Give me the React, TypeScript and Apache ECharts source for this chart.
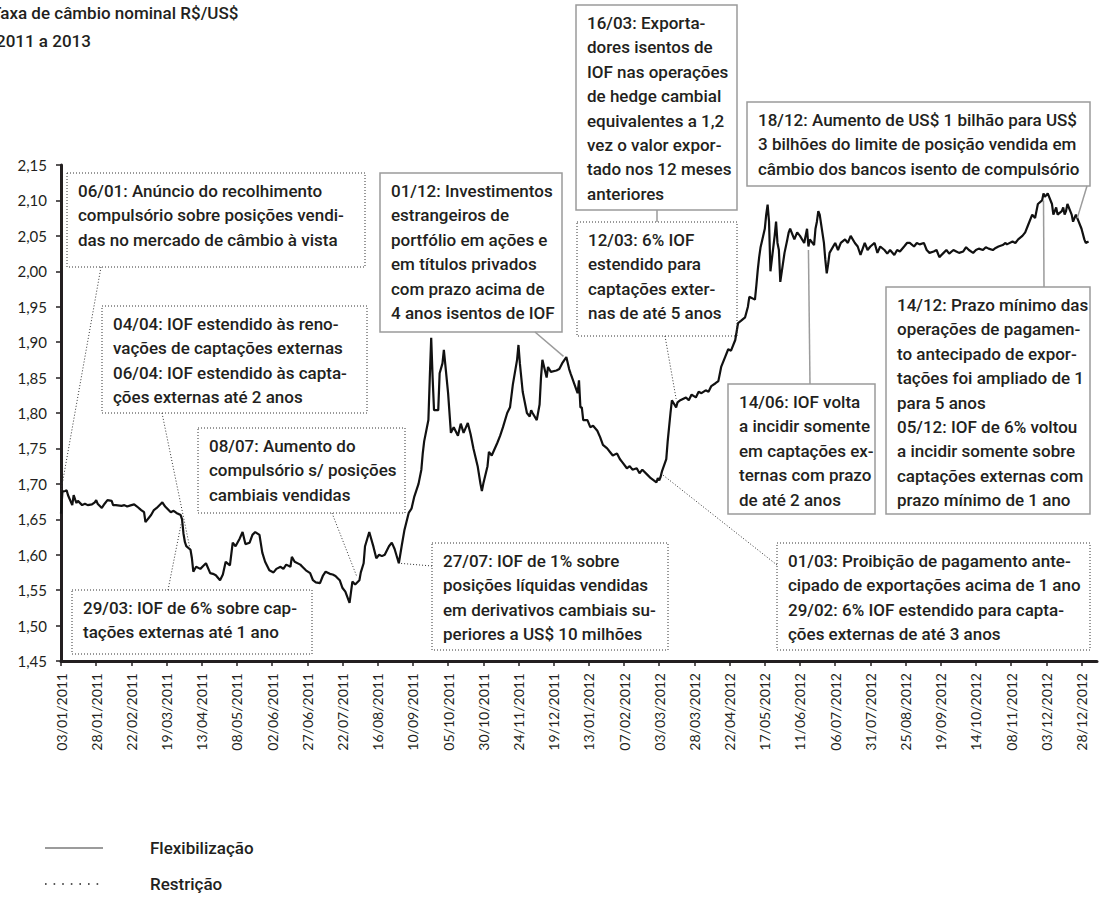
import React, { useEffect, useRef } from "react";
import * as echarts from "echarts";

// ---------- DATA ----------
const dates2011 = [
  "01-03","01-04","01-06","01-07","01-08","01-11","01-12","01-13","01-14","01-15","01-18","01-20","01-22","01-25","01-27","01-28","01-29",
  "02-01","02-03","02-05","02-08","02-09","02-11","02-15","02-17","02-19","02-22","02-24","02-26",
  "03-01","03-03","03-04","03-08","03-10","03-12","03-15","03-16","03-18","03-22","03-24","03-26","03-29","03-30","03-31",
  "04-01","04-02","04-05","04-06","04-07","04-09","04-12","04-14","04-16","04-19","04-21","04-23","04-26","04-28","04-30",
  "05-03","05-05","05-07","05-10","05-12","05-14","05-17","05-19","05-21","05-24","05-26","05-28","05-31",
  "06-03","06-05","06-08","06-10","06-12","06-15","06-16","06-18","06-22","06-24","06-26","06-29",
  "07-01","07-03","07-06","07-08","07-10","07-13","07-15","07-17","07-20","07-22","07-24","07-27","07-29",
  "07-31","08-03","08-04","08-06","08-07","08-10","08-11","08-13","08-15","08-17","08-19","08-21","08-24","08-26","08-28","08-31",
  "09-02","09-04","09-07","09-09","09-11","09-14","09-16","09-17","09-18","09-21","09-22","09-23","09-24","09-25","09-28","09-29","10-01",
  "10-02","10-05","10-07","10-09","10-12","10-14","10-16","10-19","10-21","10-23","10-26","10-28","10-29","10-30",
  "11-02","11-03","11-05","11-09","11-11","11-13","11-16","11-18","11-20","11-23","11-24","11-25","11-26","11-27","11-30",
  "12-02","12-03","12-04","12-07","12-09","12-10","12-11","12-14","12-15","12-17","12-21","12-23","12-25","12-28","12-30","12-31",
];
const rates2011 = [
  1.658,1.689,1.690,1.691,1.684,1.670,1.684,1.678,1.673,1.676,1.670,1.672,1.670,1.671,1.674,1.677,1.672,
  1.666,1.672,1.677,1.676,1.670,1.670,1.669,1.670,1.668,1.670,1.671,1.668,
  1.663,1.660,1.646,1.656,1.663,1.666,1.672,1.674,1.668,1.660,1.662,1.659,1.656,1.650,1.630,
  1.618,1.612,1.607,1.595,1.576,1.583,1.580,1.584,1.588,1.574,1.573,1.571,1.564,1.572,1.590,
  1.585,1.617,1.612,1.623,1.632,1.615,1.617,1.628,1.632,1.628,1.603,1.590,1.578,
  1.575,1.580,1.583,1.580,1.586,1.583,1.597,1.590,1.586,1.582,1.578,1.574,
  1.564,1.561,1.560,1.570,1.576,1.573,1.572,1.570,1.564,1.553,1.548,1.532,1.562,
  1.558,1.564,1.575,1.588,1.612,1.632,1.625,1.611,1.595,1.600,1.598,1.600,1.612,1.617,1.608,1.588,
  1.612,1.635,1.659,1.665,1.682,1.700,1.720,1.743,1.760,1.790,1.850,1.906,1.850,1.804,1.804,1.856,1.870,
  1.889,1.828,1.772,1.780,1.768,1.785,1.772,1.786,1.770,1.750,1.725,1.700,1.690,1.700,
  1.725,1.745,1.740,1.758,1.768,1.780,1.800,1.808,1.840,1.875,1.896,1.870,1.850,1.830,1.800,
  1.795,1.804,1.800,1.790,1.812,1.850,1.875,1.850,1.865,1.858,1.860,1.862,1.870,1.879,1.862,1.856,
];
const dates2012 = [
  "01-05","01-06","01-07","01-08","01-09","01-12","01-14","01-16","01-19","01-21","01-23","01-26","01-28","01-30",
  "02-02","02-04","02-06","02-09","02-11","02-13","02-16","02-18","02-20","02-24","02-26","03-01","03-02","03-03",
  "03-04","03-05","03-08","03-09","03-10","03-11","03-12","03-15","03-16","03-18","03-22","03-24","03-26","03-29","03-31",
  "04-02","04-05","04-07","04-09","04-12","04-14","04-16","04-19","04-21","04-23","04-26","04-28","04-30",
  "05-03","05-05","05-06","05-10","05-11","05-12","05-13","05-14","05-17","05-18","05-19","05-20","05-21","05-24","05-25","05-26","05-27","05-28","05-31",
  "06-02","06-03","06-04","06-07","06-09","06-11","06-14","06-16","06-17","06-18","06-21","06-22","06-23","06-24","06-25","06-28","06-29","06-30",
  "07-01","07-02","07-06","07-08","07-10","07-13","07-15","07-17","07-20","07-22","07-24","07-27","07-29","07-31",
  "08-03","08-05","08-07","08-10","08-12","08-14","08-17","08-19","08-21","08-24","08-26","08-28","08-31","09-02",
  "09-04","09-07","09-09","09-11","09-14","09-16","09-18","09-21","09-23","09-25","09-28","09-30",
  "10-02","10-05","10-07","10-09","10-12","10-14","10-16","10-19","10-21","10-23","10-26","10-28","10-30","11-02",
  "11-04","11-05","11-09","11-11","11-13","11-16","11-18","11-20","11-23","11-25","11-27","11-30","12-01","12-02",
  "12-04","12-07","12-08","12-09","12-10","12-11","12-14","12-15","12-16","12-17","12-18","12-21","12-22","12-23","12-24","12-25","12-28","12-30","12-31",
];
const rates2012 = [
  1.828,1.846,1.808,1.808,1.790,1.790,1.780,1.782,1.775,1.766,1.755,1.750,1.745,1.740,
  1.743,1.735,1.730,1.722,1.725,1.720,1.722,1.715,1.720,1.712,1.708,1.702,1.708,1.705,
  1.710,1.718,1.735,1.760,1.780,1.800,1.818,1.808,1.815,1.818,1.822,1.818,1.826,1.822,1.830,
  1.828,1.832,1.830,1.838,1.842,1.845,1.865,1.880,1.890,1.888,1.903,1.927,1.930,
  1.935,1.950,1.964,1.960,1.980,2.002,2.020,2.034,2.060,2.080,2.094,2.070,2.000,2.050,2.070,2.040,2.030,1.985,2.026,
  2.045,2.055,2.060,2.045,2.055,2.050,2.040,2.060,2.035,2.045,2.037,2.060,2.070,2.085,2.080,2.040,2.016,1.997,
  2.010,2.026,2.040,2.030,2.040,2.045,2.040,2.050,2.040,2.035,2.023,2.040,2.030,2.035,
  2.040,2.026,2.035,2.030,2.025,2.030,2.023,2.030,2.028,2.035,2.040,2.040,2.035,2.040,
  2.038,2.040,2.030,2.026,2.028,2.030,2.020,2.026,2.030,2.025,2.030,2.028,
  2.026,2.028,2.034,2.030,2.026,2.030,2.032,2.030,2.034,2.032,2.030,2.033,2.035,2.037,
  2.040,2.038,2.042,2.040,2.045,2.050,2.055,2.065,2.080,2.075,2.095,2.100,2.110,2.105,
  2.110,2.095,2.080,2.085,2.090,2.080,2.085,2.090,2.080,2.085,2.095,2.080,2.070,2.075,2.080,2.075,2.060,2.045,2.040,
];
const dates2013 = ["01-02"];
const rates2013 = [2.042];

const xTickLabels = [
  "03/01/2011","28/01/2011","22/02/2011","19/03/2011","13/04/2011","08/05/2011","02/06/2011","27/06/2011",
  "22/07/2011","16/08/2011","10/09/2011","05/10/2011","30/10/2011","24/11/2011","19/12/2011",
  "13/01/2012","07/02/2012","03/03/2012","28/03/2012","22/04/2012","17/05/2012","11/06/2012","06/07/2012",
  "31/07/2012","25/08/2012","19/09/2012","14/10/2012","08/11/2012","03/12/2012","28/12/2012",
];
const X_STEP_DAYS = 25;
const X_MAX_DAYS = 736;
const Y_MIN = 1.45;
const Y_MAX = 2.15;
const Y_STEP = 0.05;

const titleLines = ["Taxa de câmbio nominal R$/US$", "2011 a 2013"];
const legendItems = [
  { label: "Flexibilização", kind: "flex" },
  { label: "Restrição", kind: "restr" },
];

type Note = {
  kind: "flex" | "restr";
  lines: string[];
  box: [number, number, number, number];
  from: [number, number];
  to?: [string, number];
  toPx?: [number, number];
};

const notes: Note[] = [
  { kind: "restr", box: [67, 173, 298, 94],
    lines: ["06/01: Anúncio do recolhimento", "compulsório sobre posições vendi-", "das no mercado de câmbio à vista"],
    from: [101, 267], to: ["2011-01-03", 1.69] },
  { kind: "restr", box: [102, 306, 265, 107],
    lines: ["04/04: IOF estendido às reno-", "vações de captações externas", "06/04: IOF estendido às capta-", "ções externas até 2 anos"],
    from: [162, 413], to: ["2011-04-05", 1.605] },
  { kind: "restr", box: [72, 590, 240, 64],
    lines: ["29/03: IOF de 6% sobre cap-", "tações externas até 1 ano"],
    from: [168, 590], to: ["2011-03-30", 1.65] },
  { kind: "restr", box: [198, 428, 207, 85],
    lines: ["08/07: Aumento do", "compulsório s/ posições", "cambiais vendidas"],
    from: [332, 513], to: ["2011-08-01", 1.57] },
  { kind: "restr", box: [432, 543, 236, 107],
    lines: ["27/07: IOF de 1% sobre", "posições líquidas vendidas", "em derivativos cambiais su-", "periores a US$ 10 milhões"],
    from: [432, 566], to: ["2011-08-31", 1.588] },
  { kind: "flex", box: [380, 173, 182, 159],
    lines: ["01/12: Investimentos", "estrangeiros de", "portfólio em ações e", "em títulos privados", "com prazo acima de", "4 anos isentos de IOF"],
    from: [535, 332], to: ["2011-12-26", 1.88] },
  { kind: "flex", box: [576, 5, 161, 205],
    lines: ["16/03: Exporta-", "dores isentos de", "IOF nas operações", "de hedge cambial", "equivalentes a 1,2", "vez o valor expor-", "tado nos 12 meses", "anteriores"],
    from: [657, 210], toPx: [657, 222] },
  { kind: "restr", box: [577, 222, 160, 114],
    lines: ["12/03: 6% IOF", "estendido para", "captações exter-", "nas de até 5 anos"],
    from: [665, 336], to: ["2012-03-15", 1.82] },
  { kind: "flex", box: [747, 102, 343, 84],
    lines: ["18/12: Aumento de US$ 1 bilhão para US$", "3 bilhões do limite de posição vendida em", "câmbio dos bancos isento de compulsório"],
    from: [1087, 186], to: ["2012-12-25", 2.075] },
  { kind: "flex", box: [728, 384, 147, 130],
    lines: ["14/06: IOF volta", "a incidir somente", "em captações ex-", "ternas com prazo", "de até 2 anos"],
    from: [810, 384], to: ["2012-06-17", 2.03] },
  { kind: "flex", box: [886, 287, 204, 227],
    lines: ["14/12: Prazo mínimo das", "operações de pagamen-", "to antecipado de expor-", "tações foi ampliado de 1", "para 5 anos", "05/12: IOF de 6% voltou", "a incidir somente sobre", "captações externas com", "prazo mínimo de 1 ano"],
    from: [1044, 287], to: ["2012-12-01", 2.1] },
  { kind: "restr", box: [777, 543, 313, 107],
    lines: ["01/03: Proibição de pagamento ante-", "cipado de exportações acima de 1 ano", "29/02: 6% IOF estendido para capta-", "ções externas de até 3 anos"],
    from: [777, 565], to: ["2012-03-04", 1.715] },
];

// ---------- HELPERS ----------
const BASE = Date.UTC(2011, 0, 3);
const dayOf = (iso: string) => (Date.parse(iso + "T00:00:00Z") - BASE) / 86400000;

const TEXT = "#231f20";
const FONT = "Roboto, 'Noto Sans', sans-serif";
const AXIS_FONT = "Lato, 'Open Sans', sans-serif";
const GRAY = "#9b9b9b";

export default function App() {
  const ref = useRef<HTMLDivElement>(null);

  useEffect(() => {
    const el = ref.current;
    if (!el) return;
    const chart = echarts.init(el, null, { renderer: "svg" });

    const points: [number, number][] = [];
    dates2011.forEach((d, i) => points.push([dayOf("2011-" + d), rates2011[i]]));
    dates2012.forEach((d, i) => points.push([dayOf("2012-" + d), rates2012[i]]));
    dates2013.forEach((d, i) => points.push([dayOf("2013-" + d), rates2013[i]]));

    const tickDays = xTickLabels.map((_, i) => i * X_STEP_DAYS);

    chart.setOption({
      animation: false,
      backgroundColor: "#ffffff",
      grid: { left: 61, right: 6, top: 165, bottom: 236, containLabel: false },
      xAxis: {
        type: "value",
        min: 0,
        max: X_MAX_DAYS,
        interval: X_STEP_DAYS,
        axisLine: { show: true, lineStyle: { color: TEXT, width: 3 } },
        axisTick: { show: true, length: 5, customValues: tickDays, lineStyle: { color: TEXT, width: 1.5 } },
        splitLine: { show: false },
        axisLabel: {
          rotate: 90,
          margin: 12,
          color: TEXT,
          fontFamily: AXIS_FONT,
          fontSize: 14,
          customValues: tickDays,
          formatter: (v: number) => {
            const k = Math.round(v / X_STEP_DAYS);
            if (Math.abs(v - k * X_STEP_DAYS) > 0.01) return "";
            return xTickLabels[k] ?? "";
          },
        },
      },
      yAxis: {
        type: "value",
        min: Y_MIN,
        max: Y_MAX,
        interval: Y_STEP,
        axisLine: { show: true, lineStyle: { color: TEXT, width: 3 } },
        axisTick: { show: true, length: 5, lineStyle: { color: TEXT, width: 1.5 } },
        splitLine: { show: false },
        axisLabel: {
          margin: 14,
          color: TEXT,
          fontFamily: AXIS_FONT,
          fontSize: 15,
          formatter: (v: number) => v.toFixed(2).replace(".", ","),
        },
      },
      series: [
        {
          type: "line",
          data: points,
          showSymbol: false,
          lineStyle: { color: "#111111", width: 2.2 },
          z: 3,
        },
      ],
    });

    const els: any[] = [];
    const dotted = { stroke: "#333", lineWidth: 1, lineDash: [1, 2] };
    const solid = { stroke: GRAY, lineWidth: 1.5 };

    titleLines.forEach((t, i) => {
      els.push({
        type: "text",
        x: i === 0 ? -9 : -4,
        y: i === 0 ? 13 : 41,
        style: { text: t, fill: TEXT, fontFamily: FONT, fontSize: 17, fontWeight: 500, verticalAlign: "middle" },
      });
    });

    notes.forEach((n) => {
      const [bx, by, bw, bh] = n.box;
      const st = n.kind === "flex" ? solid : dotted;
      els.push({ type: "rect", shape: { x: bx, y: by, width: bw, height: bh }, style: { fill: "none", ...st }, z: 10 });
      n.lines.forEach((line, i) => {
        els.push({
          type: "text",
          x: bx + 11,
          y: by + 18 + i * 24.4,
          style: { text: line, fill: TEXT, fontFamily: FONT, fontSize: 17, fontWeight: 500, verticalAlign: "middle" },
          z: 10,
        });
      });
      let end: number[];
      if (n.to) end = chart.convertToPixel({ gridIndex: 0 }, [dayOf(n.to[0]), n.to[1]]) as number[];
      else end = n.toPx as number[];
      els.push({
        type: "line",
        shape: { x1: n.from[0], y1: n.from[1], x2: end[0], y2: end[1] },
        style: { ...st },
        z: 10,
      });
    });

    legendItems.forEach((it, i) => {
      const y = 848 + i * 36;
      els.push({
        type: "line",
        shape: { x1: 45, y1: y, x2: 103, y2: y },
        style: it.kind === "flex" ? { stroke: GRAY, lineWidth: 2 } : { stroke: "#222", lineWidth: 1.6, lineDash: [1.6, 7] },
      });
      els.push({
        type: "text",
        x: 150,
        y,
        style: { text: it.label, fill: TEXT, fontFamily: FONT, fontSize: 17, fontWeight: 500, verticalAlign: "middle" },
      });
    });

    chart.setOption({ graphic: { elements: els } });

    return () => chart.dispose();
  }, []);

  return (
    <div
      ref={ref}
      style={{ position: "fixed", left: 0, top: 0, width: 1103, height: 897, background: "#fff" }}
    />
  );
}
